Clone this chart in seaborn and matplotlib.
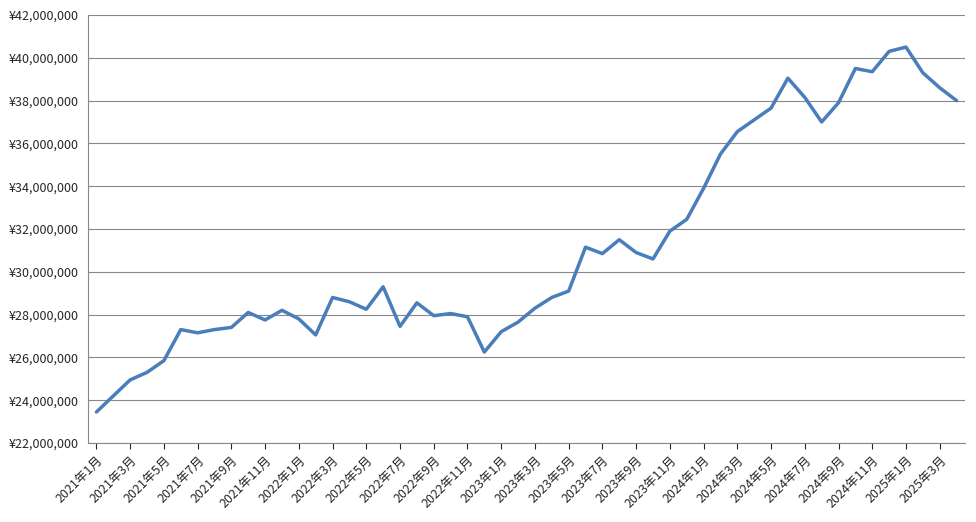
import matplotlib
matplotlib.use("Agg")
import matplotlib.pyplot as plt
import seaborn as sns
import pandas as pd
from matplotlib.ticker import FuncFormatter, MultipleLocator

# monthly values, 2021-01 .. 2025-04 (millions of yen)
values_m = [23.45, 24.2, 24.95, 25.3, 25.85, 27.3, 27.15, 27.3, 27.4, 28.1, 27.75, 28.2,
            27.8, 27.05, 28.8, 28.6, 28.25, 29.3, 27.45, 28.55, 27.95, 28.05, 27.9, 26.25,
            27.2, 27.65, 28.3, 28.8, 29.1, 31.15, 30.85, 31.5, 30.9, 30.6, 31.9, 32.45,
            33.9, 35.5, 36.55, 37.1, 37.65, 39.05, 38.15, 37.0, 37.9, 39.5, 39.35, 40.3,
            40.5, 39.3, 38.6, 38.0]
months = [f"{2021 + i // 12}年{i % 12 + 1}月" for i in range(len(values_m))]

df = pd.DataFrame({"idx": range(len(values_m)), "value": [v * 1e6 for v in values_m]})

sns.set_style("white")
plt.rcParams["font.family"] = ["Noto Sans CJK JP", "DejaVu Sans"]

fig = plt.figure(figsize=(9.76, 5.22), dpi=100)
ax = fig.add_axes([88 / 976, 1 - 443 / 522, 877 / 976, 428 / 522])
sns.lineplot(data=df, x="idx", y="value", ax=ax, color="#4a7ebb", linewidth=2.5)

ax.set_xlim(-0.5, len(values_m) - 0.5)
ax.set_ylim(22e6, 42e6)
ax.yaxis.set_major_locator(MultipleLocator(2e6))
ax.yaxis.set_major_formatter(FuncFormatter(lambda v, p: f"¥{v:,.0f}"))
ax.set_xticks(range(0, len(values_m), 2))
ax.set_xticklabels(months[::2], rotation=45, ha="right", rotation_mode="anchor", fontsize=9)
ax.tick_params(axis="y", labelsize=9)
ax.tick_params(axis="x", length=4, direction="out", bottom=True)
ax.grid(axis="y", color="#888888", linewidth=0.8)
ax.set_xlabel("")
ax.set_ylabel("")
for s in ["top", "right"]:
    ax.spines[s].set_visible(False)
ax.spines["left"].set_color("#888888")
ax.spines["bottom"].set_color("#888888")

fig.savefig("out.png", dpi=100)
